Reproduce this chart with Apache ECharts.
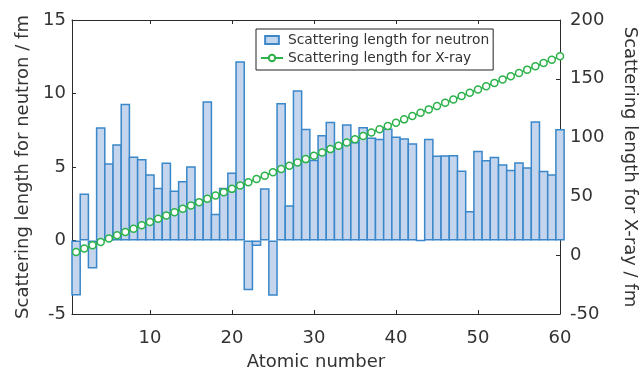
<!DOCTYPE html>
<html>
<head>
<meta charset="utf-8">
<script src="https://cdn.jsdelivr.net/npm/echarts@6/dist/echarts.min.js"></script>
<style>
  html, body { margin: 0; padding: 0; background: #fff; }
  #chart { width: 639px; height: 369px; }
</style>
</head>
<body>
<div id="chart"></div>
<script>
// atomic numbers 1..60
const atomicNumbers = [1, 2, 3, 4, 5, 6, 7, 8, 9, 10, 11, 12, 13, 14, 15, 16, 17, 18, 19, 20,
  21, 22, 23, 24, 25, 26, 27, 28, 29, 30, 31, 32, 33, 34, 35, 36, 37, 38, 39, 40,
  41, 42, 43, 44, 45, 46, 47, 48, 49, 50, 51, 52, 53, 54, 55, 56, 57, 58, 59, 60];

// neutron scattering length (fm)
const neutronLength = [-3.74, 3.2, -1.9, 7.7, 5.25, 6.55, 9.3, 5.72, 5.55, 4.5,
  3.58, 5.3, 3.4, 4.05, 5.05, 2.8, 9.48, 1.82, 3.58, 4.62,
  12.2, -3.38, -0.38, 3.55, -3.76, 9.35, 2.4, 10.22, 7.6, 5.5,
  7.18, 8.08, 6.5, 7.9, 6.7, 7.72, 7.0, 6.92, 7.62, 7.08,
  6.95, 6.62, 0, 6.92, 5.78, 5.8, 5.82, 4.76, 2.0, 6.1,
  5.48, 5.7, 5.18, 4.82, 5.32, 4.98, 8.12, 4.75, 4.5, 7.58];

// X-ray scattering length (fm)
const xrayLength = [2.8, 5.6, 8.5, 11.3, 14.1, 16.9, 19.7, 22.5, 25.4, 28.2,
  31.0, 33.8, 36.6, 39.5, 42.3, 45.1, 47.9, 50.7, 53.5, 56.4,
  59.2, 62.0, 64.8, 67.6, 70.5, 73.3, 76.1, 78.9, 81.7, 84.5,
  87.4, 90.2, 93.0, 95.8, 98.6, 101.4, 104.3, 107.1, 109.9, 112.7,
  115.5, 118.4, 121.2, 124.0, 126.8, 129.6, 132.4, 135.3, 138.1, 140.9,
  143.7, 146.5, 149.4, 152.2, 155.0, 157.8, 160.6, 163.4, 166.3, 169.1];

const xTicks = [10, 20, 30, 40, 50, 60];

const FONT = "'DejaVu Sans', sans-serif";
const AXIS_COLOR = "#2b2b2b";
const TEXT_COLOR = "#333";

const chart = echarts.init(document.getElementById("chart"));

const option = {
  animation: false,
  textStyle: { fontFamily: FONT },
  grid: { left: 72, right: 79, top: 20, bottom: 55, outerBoundsMode: "none", containLabel: false },
  legend: {
    orient: "vertical",
    left: 256,
    top: 29,
    padding: [3, 4, 4, 4],
    itemWidth: 22,
    itemHeight: 8,
    itemGap: 2,
    borderColor: "#222",
    borderWidth: 1,
    backgroundColor: "#fff",
    textStyle: { fontSize: 13.8, lineHeight: 16, color: TEXT_COLOR, fontFamily: FONT },
    data: [
      { name: "Scattering length for neutron", icon: "path://M0,0L12,0L12,7L0,7Z" },
      { name: "Scattering length for X-ray" },
    ],
  },
  xAxis: [
    {
      type: "value",
      min: 0.5,
      max: 60,
      name: "Atomic number",
      nameLocation: "middle",
      nameGap: 39,
      nameTextStyle: { fontSize: 18, color: TEXT_COLOR },
      axisLine: { onZero: false, lineStyle: { color: AXIS_COLOR, width: 1 } },
      axisTick: { show: true, inside: true, length: 4, customValues: xTicks, lineStyle: { color: AXIS_COLOR } },
      axisLabel: { customValues: xTicks, fontSize: 18, color: TEXT_COLOR, margin: 15 },
      splitLine: { show: false },
    },
    {
      type: "value",
      position: "top",
      min: 0.5,
      max: 60,
      axisLine: { onZero: false, lineStyle: { color: AXIS_COLOR, width: 1 } },
      axisTick: { show: true, inside: true, length: 4, customValues: xTicks, lineStyle: { color: AXIS_COLOR } },
      axisLabel: { show: false },
      splitLine: { show: false },
    },
  ],
  yAxis: [
    {
      type: "value",
      min: -5,
      max: 15,
      interval: 5,
      name: "Scattering length for neutron / fm",
      nameLocation: "middle",
      nameGap: 40,
      nameTextStyle: { fontSize: 18, color: TEXT_COLOR },
      axisLine: { show: true, onZero: false, lineStyle: { color: AXIS_COLOR, width: 1 } },
      axisTick: { show: true, inside: true, length: 4, lineStyle: { color: AXIS_COLOR } },
      axisLabel: { fontSize: 18, color: TEXT_COLOR, margin: 6 },
      splitLine: { show: false },
    },
    {
      type: "value",
      min: -50,
      max: 200,
      interval: 50,
      position: "right",
      name: "Scattering length for X-ray / fm",
      nameLocation: "middle",
      nameRotate: -90,
      nameGap: 61,
      nameTextStyle: { fontSize: 18, color: TEXT_COLOR },
      axisLine: { show: true, onZero: false, lineStyle: { color: AXIS_COLOR, width: 1 } },
      axisTick: { show: true, inside: true, length: 4, lineStyle: { color: AXIS_COLOR } },
      axisLabel: { fontSize: 18, color: TEXT_COLOR, margin: 10 },
      splitLine: { show: false },
    },
  ],
  series: [
    {
      name: "Scattering length for neutron",
      type: "bar",
      xAxisIndex: 0,
      yAxisIndex: 0,
      // border is drawn inside the bar rect, so widen by the border width
      barWidth: 9.7,
      data: atomicNumbers.map((z, i) => [z, neutronLength[i]]),
      itemStyle: { color: "#c5d5ee", borderColor: "#3a87c9", borderWidth: 1.5 },
    },
    {
      name: "Scattering length for X-ray",
      type: "line",
      xAxisIndex: 0,
      yAxisIndex: 1,
      data: atomicNumbers.map((z, i) => [z, xrayLength[i]]),
      symbol: "circle",
      symbolSize: 7,
      showAllSymbol: true,
      lineStyle: { color: "#2bb24a", width: 1.5 },
      itemStyle: { color: "#fff", borderColor: "#2bb24a", borderWidth: 1.5 },
      z: 3,
    },
  ],
};

chart.setOption(option);
</script>
</body>
</html>
